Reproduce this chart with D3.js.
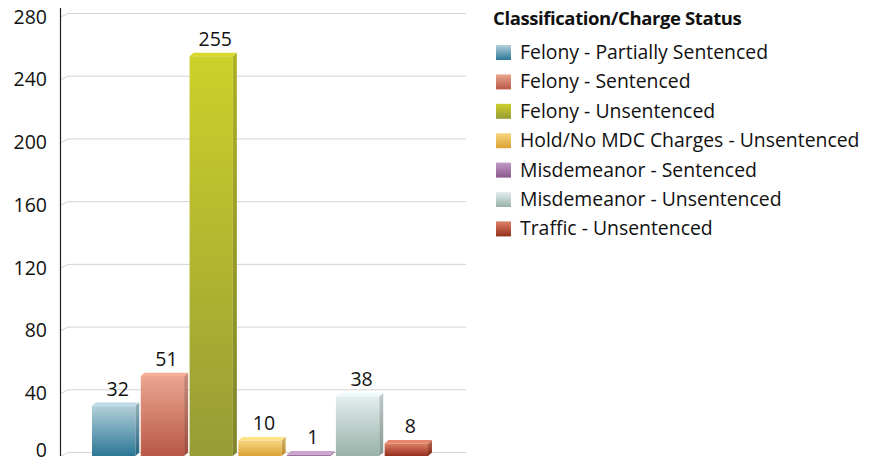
<!DOCTYPE html>
<html>
<head>
<meta charset="utf-8">
<script src="https://cdn.jsdelivr.net/npm/d3@7"></script>
<style>
  body { margin: 0; background: #fff; }
  text { font-family: "Open Sans", "Noto Sans", sans-serif; fill: #111; }
</style>
</head>
<body>
<svg id="chart" width="880" height="466"></svg>
<script>
// chart data
var categories = [
  "Felony - Partially Sentenced",
  "Felony - Sentenced",
  "Felony - Unsentenced",
  "Hold/No MDC Charges - Unsentenced",
  "Misdemeanor - Sentenced",
  "Misdemeanor - Unsentenced",
  "Traffic - Unsentenced"
];
var counts = [32, 51, 255, 10, 1, 38, 8];
var yTicks = [0, 40, 80, 120, 160, 200, 240, 280];
var legendTitle = "Classification/Charge Status";

// top / bottom gradient colours per bar
var topColors = ["#b3d0da", "#eba690", "#cdd02a", "#f7d680", "#c29ac4", "#e4eeee", "#dd8068"];
var botColors = ["#2c7796", "#b85846", "#979c36", "#dca133", "#8a5890", "#98b2a9", "#962f1d"];

var svg = d3.select("#chart");
var defs = svg.append("defs");

var depth = 4;
var wallX = 7, wallY = 3.5;   // back wall offset for the 3d look

var x = d3.scaleBand()
  .domain(categories)
  .range([92, 432])
  .paddingInner(0.03)
  .paddingOuter(0);

var y = d3.scaleLinear()
  .domain([0, 280])
  .range([456, 17]);

// gradients
categories.forEach(function(c, i) {
  var g = defs.append("linearGradient")
    .attr("id", "grad" + i)
    .attr("x1", 0).attr("y1", 0).attr("x2", 0).attr("y2", 1);
  g.append("stop").attr("offset", "0%").attr("stop-color", topColors[i]);
  g.append("stop").attr("offset", "100%").attr("stop-color", botColors[i]);
});

// gridlines (slanted start, then flat along the back wall)
svg.append("g")
  .selectAll("path")
  .data(yTicks)
  .enter()
  .append("path")
  .attr("d", function(d) {
    var yy = y(d);
    return "M61," + yy + "L" + (61 + wallX) + "," + (yy - wallY) + "L466," + (yy - wallY);
  })
  .attr("fill", "none")
  .attr("stroke", "#d3d3d3")
  .attr("stroke-width", 1);

// y axis
var yAxis = d3.axisLeft(y)
  .tickValues(yTicks)
  .tickSize(0)
  .tickPadding(14);

var ax = svg.append("g")
  .attr("transform", "translate(61,0)")
  .call(yAxis);
ax.select(".domain").remove();
ax.selectAll("text")
  .style("font-size", "19.5px")
  .attr("fill", "#111")
  .attr("dy", function(d) { return d === 0 ? "0.05em" : "0.32em"; });

svg.append("line")
  .attr("x1", 60.5).attr("x2", 60.5)
  .attr("y1", 8).attr("y2", 456)
  .attr("stroke", "#222")
  .attr("stroke-width", 1.2);

// bars
var bars = svg.append("g")
  .selectAll("g")
  .data(counts)
  .enter()
  .append("g");

var bw = x.bandwidth() - depth;

// side face
bars.append("path")
  .attr("d", function(d, i) {
    var x0 = x(categories[i]) + bw, yt = y(d), yb = y(0);
    return "M" + x0 + "," + yt + "L" + (x0 + depth) + "," + (yt - depth * 0.85) +
      "L" + (x0 + depth) + "," + (yb - depth * 0.85) + "L" + x0 + "," + yb + "Z";
  })
  .attr("fill", function(d, i) { return "url(#grad" + i + ")"; })
  .style("filter", "brightness(0.85)");

// top face
bars.append("path")
  .attr("d", function(d, i) {
    var x0 = x(categories[i]), yt = y(d);
    return "M" + x0 + "," + yt + "L" + (x0 + depth) + "," + (yt - depth * 0.85) +
      "L" + (x0 + bw + depth) + "," + (yt - depth * 0.85) + "L" + (x0 + bw) + "," + yt + "Z";
  })
  .attr("fill", function(d, i) { return topColors[i]; })
  .style("filter", "brightness(1.05)");

// front face
bars.append("rect")
  .attr("x", function(d, i) { return x(categories[i]); })
  .attr("y", function(d) { return y(d); })
  .attr("width", bw)
  .attr("height", function(d) { return y(0) - y(d); })
  .attr("fill", function(d, i) { return "url(#grad" + i + ")"; });

// value labels
bars.append("text")
  .attr("x", function(d, i) { return x(categories[i]) + x.bandwidth() / 2 + 2; })
  .attr("y", function(d) { return y(d) - 10; })
  .attr("text-anchor", "middle")
  .style("font-size", "19.5px")
  .text(function(d) { return d; });

// legend
var legend = svg.append("g").attr("transform", "translate(493,0)");
legend.append("text")
  .attr("x", 0)
  .attr("y", 25)
  .style("font-size", "18.5px")
  .style("font-weight", "bold")
  .style("letter-spacing", "-0.4px")
  .text(legendTitle);

var items = legend.selectAll("g.item")
  .data(categories)
  .enter()
  .append("g")
  .attr("class", "item")
  .attr("transform", function(d, i) { return "translate(0," + (52 + i * 29.4) + ")"; });

items.append("rect")
  .attr("x", 3)
  .attr("y", -7)
  .attr("width", 15)
  .attr("height", 15)
  .attr("fill", function(d, i) { return "url(#grad" + i + ")"; });

items.append("text")
  .attr("x", 27)
  .attr("y", 7)
  .style("font-size", "19.4px")
  .text(function(d) { return d; });
</script>
</body>
</html>
